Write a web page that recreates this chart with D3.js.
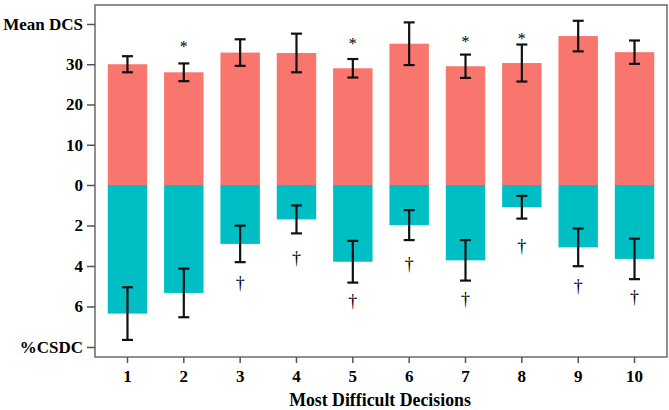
<!DOCTYPE html>
<html>
<head>
<meta charset="utf-8">
<script src="https://cdn.jsdelivr.net/npm/d3@7"></script>
<style>
  html, body { margin: 0; padding: 0; background: #fff; }
  svg { display: block; }
  text { font-family: "Liberation Serif", "Times New Roman", serif; }
</style>
</head>
<body>
<svg id="chart" width="669" height="410"></svg>
<script>
// ---- data ----
const categories = ["1","2","3","4","5","6","7","8","9","10"];
const dcsMean    = [30.0, 28.0, 32.9, 32.8, 29.0, 35.1, 29.5, 30.3, 37.0, 33.0];
const dcsErr     = [2.0, 2.2, 3.3, 4.8, 2.3, 5.3, 2.9, 4.6, 3.8, 2.9];
const csdcMean   = [6.35, 5.33, 2.91, 1.70, 3.79, 1.98, 3.72, 1.10, 3.08, 3.65];
const csdcErr    = [1.3, 1.2, 0.9, 0.69, 1.03, 0.74, 1.0, 0.56, 0.93, 1.0];
const starCats   = ["2","5","7","8"];
const starPos    = [35.1, 35.9, 36.5, 37.2];          // DCS units (mark centre)
const daggerCats = ["3","4","5","6","7","8","9","10"];
const daggerPos  = [4.90, 3.67, 5.76, 3.95, 5.68, 3.05, 5.02, 5.60]; // %CSDC units (mark centre)
const topTicks   = [0, 10, 20, 30, 40];
const topTickLabels = ["0", "10", "20", "30", "Mean DCS"];
const botTicks   = [2, 4, 6, 8];
const botTickLabels = ["2", "4", "6", "%CSDC"];
const xTitle = "Most Difficult Decisions";

// ---- layout ----
const svg = d3.select("#chart");
const frame = {left: 95, top: 5, right: 667, bottom: 357};
const zeroY = 185;

const x = d3.scaleBand().domain(categories)
  .range([99.3, 662.7]).paddingInner(0.3).paddingOuter(0.15);
const yTop = d3.scaleLinear().domain([0, 40]).range([zeroY, 24]);
const yBot = d3.scaleLinear().domain([0, 8]).range([zeroY, 347]);

const salmon = "#F8766D", teal = "#00BFC4";

// bars
svg.append("g").selectAll("rect").data(categories).join("rect")
  .attr("x", d => x(d)).attr("width", x.bandwidth())
  .attr("y", (d,i) => yTop(dcsMean[i]))
  .attr("height", (d,i) => yTop(0) - yTop(dcsMean[i]))
  .attr("fill", salmon);
svg.append("g").selectAll("rect").data(categories).join("rect")
  .attr("x", d => x(d)).attr("width", x.bandwidth())
  .attr("y", yBot(0))
  .attr("height", (d,i) => yBot(csdcMean[i]) - yBot(0))
  .attr("fill", teal);

// error bars
function errorBars(scale, means, errs) {
  const g = svg.append("g").attr("stroke", "#111").attr("stroke-width", 2.2).attr("fill", "none");
  categories.forEach((c, i) => {
    const cx = x(c) + x.bandwidth()/2;
    const y1 = scale(means[i] - errs[i]), y2 = scale(means[i] + errs[i]);
    const cap = 5.5;
    g.append("line").attr("x1", cx).attr("x2", cx).attr("y1", y1).attr("y2", y2);
    g.append("line").attr("x1", cx-cap).attr("x2", cx+cap).attr("y1", y1).attr("y2", y1);
    g.append("line").attr("x1", cx-cap).attr("x2", cx+cap).attr("y1", y2).attr("y2", y2);
  });
}
errorBars(yTop, dcsMean, dcsErr);
errorBars(yBot, csdcMean, csdcErr);

// significance marks
svg.append("g").selectAll("text").data(starCats).join("text")
  .attr("x", d => x(d) + x.bandwidth()/2)
  .attr("y", (d,i) => yTop(starPos[i]) + 8.6)
  .attr("text-anchor", "middle").attr("font-size", 16).attr("fill", "#000")
  .text("*");
svg.append("g").selectAll("text").data(daggerCats).join("text")
  .attr("x", d => x(d) + x.bandwidth()/2)
  .attr("y", (d,i) => yBot(daggerPos[i]) + 5)
  .attr("text-anchor", "middle").attr("font-size", 18).attr("fill", "#000")
  .text("\u2020");

// frame
svg.append("rect")
  .attr("x", frame.left).attr("y", frame.top)
  .attr("width", frame.right - frame.left).attr("height", frame.bottom - frame.top)
  .attr("fill", "none").attr("stroke", "#6b6b6b").attr("stroke-width", 1.5);

// axes
function styleAxis(g) {
  g.select(".domain").remove();
  g.selectAll(".tick line").attr("stroke", "#555").attr("stroke-width", 1.5);
  g.selectAll(".tick text").attr("fill", "#000").attr("font-size", 17)
    .attr("font-weight", "bold").attr("font-family", "Liberation Serif, Times New Roman, serif");
}
svg.append("g").attr("transform", `translate(${frame.left},0)`)
  .call(d3.axisLeft(yTop).tickValues(topTicks).tickSize(8).tickPadding(4)
    .tickFormat((d,i) => topTickLabels[i]))
  .call(styleAxis);
svg.append("g").attr("transform", `translate(${frame.left},0)`)
  .call(d3.axisLeft(yBot).tickValues(botTicks).tickSize(8).tickPadding(4)
    .tickFormat((d,i) => botTickLabels[i]))
  .call(styleAxis);
svg.append("g").attr("transform", `translate(0,${frame.bottom})`)
  .call(d3.axisBottom(x).tickSize(6).tickPadding(7))
  .call(styleAxis);

// axis title
svg.append("text")
  .attr("x", (frame.left + frame.right)/2 - 1)
  .attr("y", 405.5)
  .attr("text-anchor", "middle").attr("font-size", 17.8).attr("font-weight", "bold")
  .attr("fill", "#000")
  .text(xTitle);
</script>
</body>
</html>
